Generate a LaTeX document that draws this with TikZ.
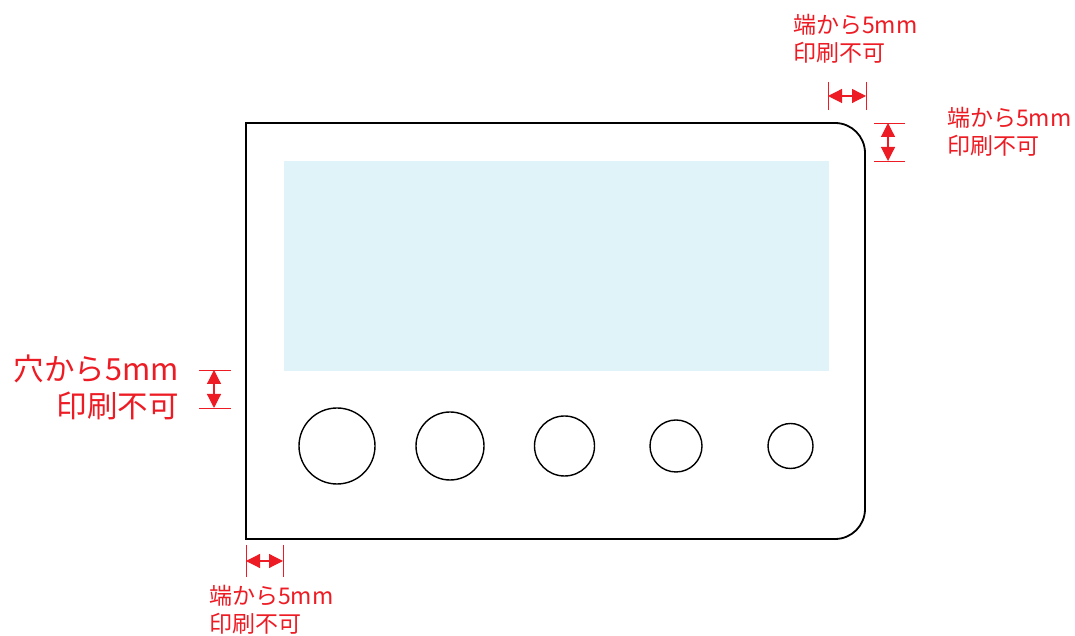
\documentclass[tikz,border=0pt]{standalone}
\usepackage{fontspec}
\setmainfont{Noto Sans CJK JP}
\usetikzlibrary{arrows.meta}
\definecolor{mred}{HTML}{ED1C24}
\definecolor{mblue}{HTML}{E0F3F9}
\tikzset{
  cardline/.style={draw=black, line width=1.8pt},
  hole/.style={circle, draw=black, line width=1.4pt, inner sep=0pt},
  tick/.style={draw=mred, line width=0.9pt},
  dimarrow/.style={draw=mred, line width=1.2pt, {Triangle[length=14pt,width=14pt]}-{Triangle[length=14pt,width=14pt]}},
  smalllabel/.style={text=mred, font=\fontsize{23}{28}\selectfont, inner sep=0pt, align=left},
  biglabel/.style={text=mred, font=\fontsize{30.5}{37}\selectfont, inner sep=0pt, align=right},
}
\begin{document}
\begin{tikzpicture}[x=1pt,y=1pt]
\useasboundingbox (0,0) rectangle (1075,636);
% card
\draw[cardline] (246,97) -- (246,513) -- (835,513) arc[start angle=90, end angle=0, radius=30] -- (865,127) arc[start angle=0, end angle=-90, radius=30] -- cycle;
\node[fill=mblue, inner sep=0pt, minimum width=545pt, minimum height=210pt, anchor=south west] (printarea) at (284,265) {};
% holes
\node[hole, minimum size=76pt] (h1) at (337,190) {};
\node[hole, minimum size=68pt] (h2) at (450,190) {};
\node[hole, minimum size=60pt] (h3) at (564.5,190) {};
\node[hole, minimum size=52pt] (h4) at (676,190) {};
\node[hole, minimum size=45pt] (h5) at (790.5,190) {};
% top dimension
\coordinate (ta1) at (828,554); \coordinate (ta2) at (828,526);
\coordinate (tb1) at (866,554); \coordinate (tb2) at (866,526);
\coordinate (tl) at (828,540); \coordinate (tr) at (866,540);
\draw[tick] (ta1) -- (ta2);
\draw[tick] (tb1) -- (tb2);
\draw[dimarrow] (tl) -- (tr);
\node[smalllabel, anchor=north west] (toplabel) at (793,622) {端から5mm\\印刷不可};
% right dimension
\coordinate (ra1) at (874,513); \coordinate (ra2) at (905,513);
\coordinate (rb1) at (874,475); \coordinate (rb2) at (905,475);
\coordinate (rt) at (888,513); \coordinate (rb) at (888,475);
\draw[tick] (ra1) -- (ra2);
\draw[tick] (rb1) -- (rb2);
\draw[dimarrow] (rt) -- (rb);
\node[smalllabel, anchor=north west] (rightlabel) at (947,529) {端から5mm\\印刷不可};
% left dimension
\coordinate (la1) at (199,266); \coordinate (la2) at (231,266);
\coordinate (lb1) at (199,228); \coordinate (lb2) at (231,228);
\coordinate (lt) at (214,266); \coordinate (lb) at (214,228);
\draw[tick] (la1) -- (la2);
\draw[tick] (lb1) -- (lb2);
\draw[dimarrow] (lt) -- (lb);
\node[biglabel, anchor=north east] (leftlabel) at (179,281) {穴から5mm\\印刷不可};
% bottom dimension
\coordinate (ba1) at (246,91); \coordinate (ba2) at (246,59);
\coordinate (bb1) at (283,91); \coordinate (bb2) at (283,59);
\coordinate (bl) at (246,75); \coordinate (br) at (283,75);
\draw[tick] (ba1) -- (ba2);
\draw[tick] (bb1) -- (bb2);
\draw[dimarrow] (bl) -- (br);
\node[smalllabel, anchor=north west] (bottomlabel) at (209,51) {端から5mm\\印刷不可};
\end{tikzpicture}
\end{document}
